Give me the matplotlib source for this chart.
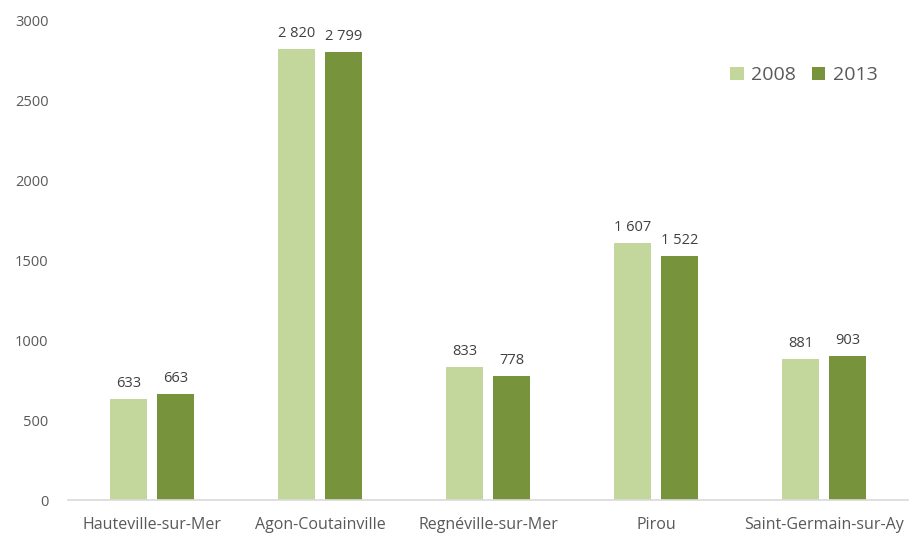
import numpy as np
import matplotlib.pyplot as plt

plt.rcParams['font.family'] = ['Open Sans', 'DejaVu Sans']

communes = ['Hauteville-sur-Mer', 'Agon-Coutainville', 'Regnéville-sur-Mer',
            'Pirou', 'Saint-Germain-sur-Ay']
pop_2008 = [633, 2820, 833, 1607, 881]
pop_2013 = [663, 2799, 778, 1522, 903]
years = ['2008', '2013']

c_light = '#C3D69B'
c_dark = '#77933C'
txt = '#595959'


def fmt(v):
    return f'{v:,}'.replace(',', ' ')


fig = plt.figure(figsize=(9.1, 5.34), dpi=100)
ax = fig.add_axes([68 / 910, 34 / 534, 840 / 910, 480 / 534])

x = np.arange(len(communes))
w = 0.22
b1 = ax.bar(x - 0.14, pop_2008, w, color=c_light, label=years[0])
b2 = ax.bar(x + 0.14, pop_2013, w, color=c_dark, label=years[1])

for bars, vals in ((b1, pop_2008), (b2, pop_2013)):
    for r, v in zip(bars, vals):
        ax.text(r.get_x() + r.get_width() / 2, v + 50, fmt(v),
                ha='center', va='bottom', fontsize=10.5, color='#404040')

ax.set_xlim(-0.5, 4.5)
ax.set_ylim(0, 3000)
ax.set_yticks(range(0, 3001, 500))
ax.set_xticks(x)
ax.set_xticklabels(communes)
ax.tick_params(length=0, labelsize=10.5, colors=txt)
ax.tick_params(axis='y', pad=14)
ax.tick_params(axis='x', pad=12, labelsize=11.5)
for s in ('top', 'right', 'left'):
    ax.spines[s].set_visible(False)
ax.spines['bottom'].set_color('#D9D9D9')
ax.spines['bottom'].set_linewidth(1.2)

leg = ax.legend(loc='upper right', bbox_to_anchor=(0.985, 0.94), ncol=2,
                frameon=False, fontsize=14, handlelength=0.7,
                handleheight=0.7, handletextpad=0.4, columnspacing=0.8)
for t in leg.get_texts():
    t.set_color(txt)

fig.savefig('out.png', dpi=100)
